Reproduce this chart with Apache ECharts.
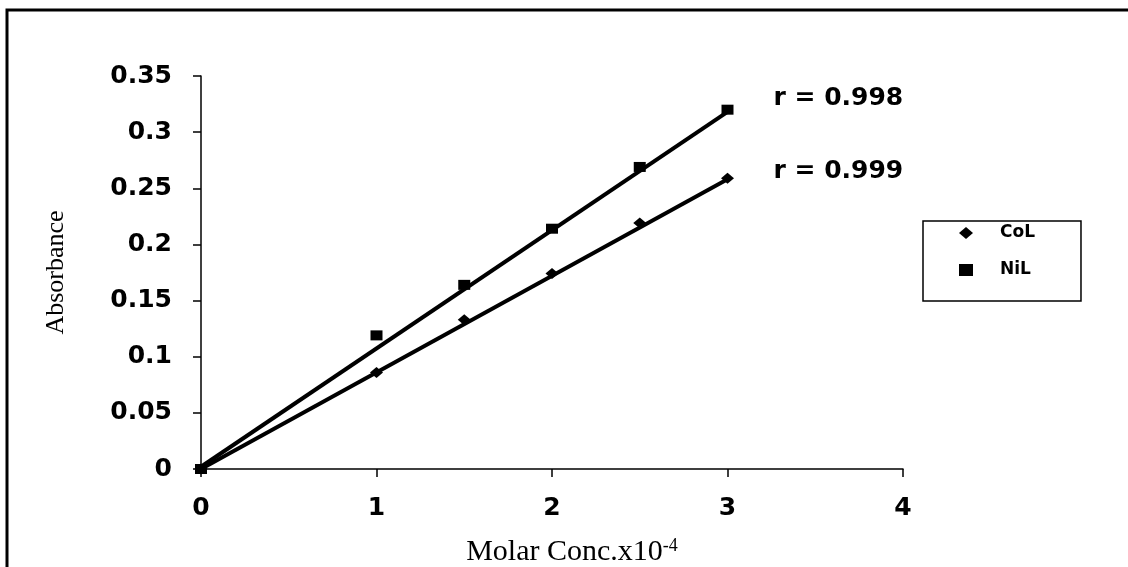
<!DOCTYPE html>
<html>
<head>
<meta charset="utf-8">
<title>Absorbance vs Molar Conc.</title>
<script src="https://cdn.jsdelivr.net/npm/echarts@6/dist/echarts.min.js"></script>
<style>
    html, body { margin: 0; padding: 0; background: #fff; }
    #chart { width: 1128px; height: 567px; }
</style>
</head>
<body>
<div id="chart"></div>
<script>
    // measured points
    var conc = [0, 1, 1.5, 2, 2.5, 3];
    var colValues = [0, 0.086, 0.133, 0.174, 0.219, 0.259];
    var nilValues = [0, 0.119, 0.164, 0.214, 0.269, 0.32];
    // trend line end points
    var colTrend = [[0, 0], [3, 0.258]];
    var nilTrend = [[0, 0.002], [3, 0.318]];
    var yTicks = [0, 0.05, 0.1, 0.15, 0.2, 0.25, 0.3, 0.35];

    var tickFont = 'DejaVu Sans';
    var titleFont = '"Liberation Serif", "DejaVu Serif", serif';

    function pairs(xs, ys) {
        return xs.map(function (x, i) { return [x, ys[i]]; });
    }

    var chart = echarts.init(document.getElementById('chart'));
    var option = {
        animation: false,
        backgroundColor: '#fff',
        grid: { left: 201, right: 225, top: 76, bottom: 98, outerBoundsMode: 'none' },
        graphic: [{
            type: 'rect',
            shape: { x: 7, y: 10, width: 1300, height: 700 },
            style: { fill: 'none', stroke: '#000', lineWidth: 3 },
            silent: true
        }],
        legend: {
            orient: 'vertical',
            left: 923,
            top: 221,
            data: ['CoL', 'NiL'],
            borderColor: '#000',
            borderWidth: 1.5,
            padding: [3, 46, 22, 36],
            itemWidth: 14,
            itemHeight: 12,
            itemGap: 19,
            textStyle: {
                fontFamily: tickFont,
                fontWeight: 'bold',
                fontSize: 17,
                lineHeight: 18,
                color: '#000',
                padding: [0, 0, 0, 22]
            }
        },
        xAxis: {
            type: 'value',
            min: 0,
            max: 4,
            interval: 1,
            splitLine: { show: false },
            axisLine: { lineStyle: { color: '#000', width: 1.5 } },
            axisTick: { length: 8, lineStyle: { color: '#000', width: 1.5 } },
            axisLabel: {
                margin: 27,
                color: '#000',
                fontFamily: tickFont,
                fontWeight: 'bold',
                fontSize: 25
            },
            name: '{t|Molar Conc.x10}{s|-4}',
            nameLocation: 'middle',
            nameGap: 68,
            nameTextStyle: {
                rich: {
                    t: { fontFamily: titleFont, fontSize: 30, color: '#000', padding: [0, 0, 0, 40] },
                    s: { fontFamily: titleFont, fontSize: 18, color: '#000', verticalAlign: 'top', padding: [0, 0, 12, 0] }
                }
            }
        },
        yAxis: {
            type: 'value',
            min: 0,
            max: 0.35,
            interval: 0.05,
            splitLine: { show: false },
            axisLine: { show: true, lineStyle: { color: '#000', width: 1.5 } },
            axisTick: { show: true, length: 8, lineStyle: { color: '#000', width: 1.5 } },
            axisLabel: {
                margin: 29,
                color: '#000',
                fontFamily: tickFont,
                fontWeight: 'bold',
                fontSize: 25,
                formatter: function (v) {
                    var t = yTicks.find(function (k) { return Math.abs(k - v) < 1e-9; });
                    return t === undefined ? '' : String(t);
                }
            },
            name: 'Absorbance',
            nameLocation: 'middle',
            nameGap: 132,
            nameTextStyle: { fontFamily: titleFont, fontSize: 26, color: '#000' }
        },
        series: [
            {
                name: 'NiL fit',
                type: 'line',
                data: nilTrend,
                showSymbol: false,
                lineStyle: { color: '#000', width: 4 },
                endLabel: {
                    show: true,
                    formatter: 'r = 0.998',
                    distance: 46,
                    offset: [0, -13],
                    color: '#000',
                    fontFamily: tickFont,
                    fontWeight: 'bold',
                    fontSize: 25
                },
                z: 2
            },
            {
                name: 'CoL fit',
                type: 'line',
                data: colTrend,
                showSymbol: false,
                lineStyle: { color: '#000', width: 4 },
                endLabel: {
                    show: true,
                    formatter: 'r = 0.999',
                    distance: 46,
                    offset: [0, -8],
                    color: '#000',
                    fontFamily: tickFont,
                    fontWeight: 'bold',
                    fontSize: 25
                },
                z: 2
            },
            {
                name: 'CoL',
                type: 'scatter',
                data: pairs(conc, colValues),
                symbol: 'diamond',
                symbolSize: [13, 11],
                itemStyle: { color: '#000', opacity: 1 },
                z: 3
            },
            {
                name: 'NiL',
                type: 'scatter',
                data: pairs(conc, nilValues),
                symbol: 'rect',
                symbolSize: [12, 10],
                itemStyle: { color: '#000', opacity: 1 },
                z: 3
            }
        ]
    };
    chart.setOption(option);
</script>
</body>
</html>
